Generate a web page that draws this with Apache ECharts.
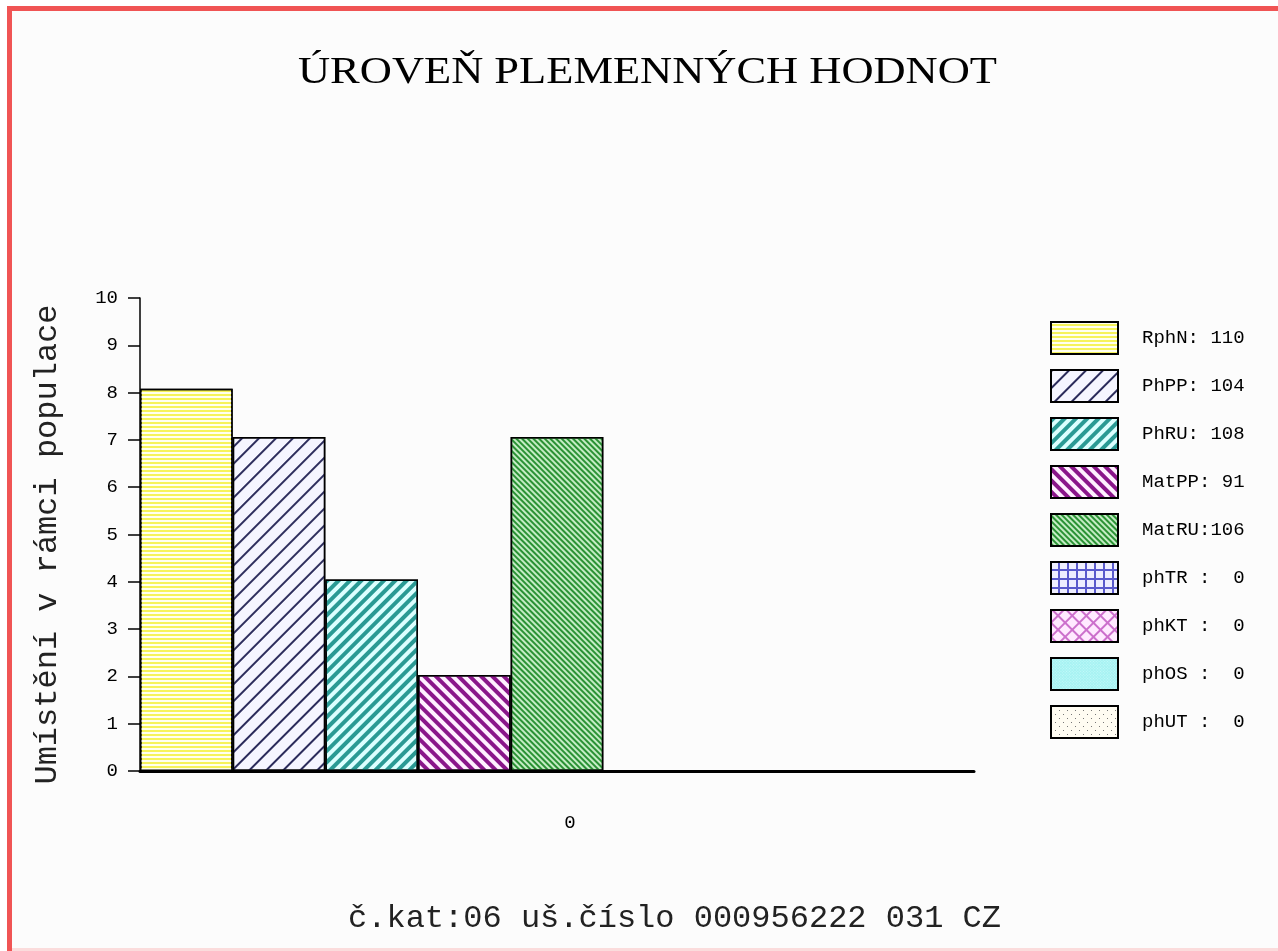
<!DOCTYPE html>
<html>
<head>
<meta charset="utf-8">
<script src="https://cdn.jsdelivr.net/npm/echarts@6/dist/echarts.min.js"></script>
<style>
html,body{margin:0;padding:0;background:#fff;}
#c{width:1278px;height:951px;}
</style>
</head>
<body>
<div id="c"></div>
<script>
// ---- data ----
const categories = ['0'];
const seriesNames = ['RphN', 'PhPP', 'PhRU', 'MatPP', 'MatRU', 'phTR', 'phKT', 'phOS', 'phUT'];
const placementValues = [8.08, 7.06, 4.05, 2.03, 7.06, 0, 0, 0, 0];
const breedingValues = [110, 104, 108, 91, 106, 0, 0, 0, 0];
const yMin = 0, yMax = 10, yStep = 1;
const titleText = 'ÚROVEŇ PLEMENNÝCH HODNOT';
const yAxisTitle = 'Umístění v rámci populace';
const footerText = 'č.kat:06 uš.číslo 000956222 031 CZ';

// ---- styles ----
const R = Math.PI / 4;
const patterns = [
  { color: '#f6f35a', decal: { symbol: 'rect', symbolSize: 1, dashArrayX: [1, 0], dashArrayY: [2, 2], rotation: 0, color: '#fffff0' } },
  { color: '#f5f5ff', decal: { symbol: 'rect', symbolSize: 1, dashArrayX: [1, 0], dashArrayY: [1.3, 10], rotation: -R, color: '#2c2c5c' } },
  { color: '#dcffff', decal: { symbol: 'rect', symbolSize: 1, dashArrayX: [1, 0], dashArrayY: [4, 4], rotation: -R, color: '#2a9a94' } },
  { color: '#fff0ff', decal: { symbol: 'rect', symbolSize: 1, dashArrayX: [1, 0], dashArrayY: [4, 4], rotation: R, color: '#8a168a' } },
  { color: '#c4ecc4', decal: { symbol: 'rect', symbolSize: 1, dashArrayX: [1, 0], dashArrayY: [2, 2], rotation: R, color: '#2a9234' } },
  { color: '#5a5acc', decal: { symbol: 'rect', symbolSize: 1, symbolKeepAspect: false, dashArrayX: [6.5, 1.5], dashArrayY: [6.5, 1.5], rotation: 0, color: '#eeeeff' } },
  { color: '#cc70cc', decal: { symbol: 'rect', symbolSize: 1, symbolKeepAspect: false, dashArrayX: [8, 1.5], dashArrayY: [8, 1.5], rotation: R, color: '#ffeaff' } },
  { color: '#a6f2f2', decal: { symbol: 'rect', symbolSize: 1, dashArrayX: [1, 1], dashArrayY: [1, 1], rotation: R, color: '#c6fafa' } },
  { color: '#fffcf2', decal: { symbol: 'rect', symbolSize: 1, dashArrayX: [[1, 7], [0, 4, 1, 3]], dashArrayY: [1, 3], rotation: 0, color: '#777' } }
];

const legendLabel = {};
seriesNames.forEach((n, i) => {
  const v = breedingValues[i];
  legendLabel[n] = v > 0
    ? n + ':' + String(v).padStart(8 - n.length)
    : n + ' :' + String(v).padStart(7 - n.length);
});

const monoFont = '"Liberation Mono", "DejaVu Sans Mono", monospace';

const chart = echarts.init(document.getElementById('c'), null, { renderer: 'canvas' });
chart.setOption({
  animation: false,
  backgroundColor: '#fcfcfc',
  grid: { left: 140, right: 304, top: 298, bottom: 180, containLabel: false, outerBoundsMode: 'none' },
  legend: {
    orient: 'vertical', left: 1050, top: 321, padding: 0,
    itemWidth: 67, itemHeight: 32, itemGap: 14,
    icon: 'rect', selectedMode: false,
    data: seriesNames,
    formatter: n => legendLabel[n],
    itemStyle: { borderColor: '#000', borderWidth: 2 },
    textStyle: { fontFamily: monoFont, fontSize: 19, color: '#000', padding: [0, 0, 0, 19] }
  },
  xAxis: {
    type: 'category', data: categories, boundaryGap: true,
    axisLine: { show: true, lineStyle: { color: '#000', width: 3 } },
    axisTick: { show: false },
    axisLabel: { margin: 42, fontFamily: monoFont, fontSize: 19, color: '#000', padding: [0, 0, 0, 26] },
    splitLine: { show: false }
  },
  yAxis: {
    type: 'value', min: yMin, max: yMax, interval: yStep,
    name: yAxisTitle, nameLocation: 'middle', nameGap: 76,
    nameTextStyle: { fontFamily: monoFont, fontSize: 32, color: '#222', padding: [0, 20, 0, 0] },
    axisLine: { show: true, lineStyle: { color: '#000', width: 1.5 } },
    axisTick: { show: true, inside: false, length: 12, lineStyle: { color: '#000', width: 1.5 } },
    axisLabel: { margin: 22, fontFamily: monoFont, fontSize: 19, color: '#000' },
    splitLine: { show: false }
  },
  series: seriesNames.map((n, i) => ({
    type: 'bar', name: n,
    data: [placementValues[i]],
    barGap: '0%', barCategoryGap: '0%',
    itemStyle: { color: patterns[i].color, borderColor: '#000', borderWidth: 1.5, decal: patterns[i].decal },
    emphasis: { disabled: true }
  })),
  graphic: [
    { type: 'rect', shape: { x: 0, y: 0, width: 1278, height: 6 }, style: { fill: '#ffffff' }, silent: true },
    { type: 'rect', shape: { x: 0, y: 0, width: 7, height: 951 }, style: { fill: '#ffffff' }, silent: true },
    { type: 'rect', shape: { x: 7, y: 6, width: 1271, height: 5 }, style: { fill: '#f05454' }, silent: true },
    { type: 'rect', shape: { x: 7, y: 6, width: 5, height: 945 }, style: { fill: '#f05454' }, silent: true },
    { type: 'rect', shape: { x: 12, y: 948, width: 1266, height: 3 }, style: { fill: '#fbdcdc' }, silent: true },
    { type: 'text', x: 647.5, y: 73, scaleX: 1.17, silent: true,
      style: { text: titleText, font: '38px "Liberation Serif", "Times New Roman", serif', fill: '#000',
               align: 'center', verticalAlign: 'middle', textAlign: 'center', textVerticalAlign: 'middle' } },
    { type: 'text', x: 674.5, y: 919, silent: true,
      style: { text: footerText, font: '32px ' + monoFont, fill: '#222',
               align: 'center', verticalAlign: 'middle', textAlign: 'center', textVerticalAlign: 'middle' } }
  ]
});
</script>
</body>
</html>
